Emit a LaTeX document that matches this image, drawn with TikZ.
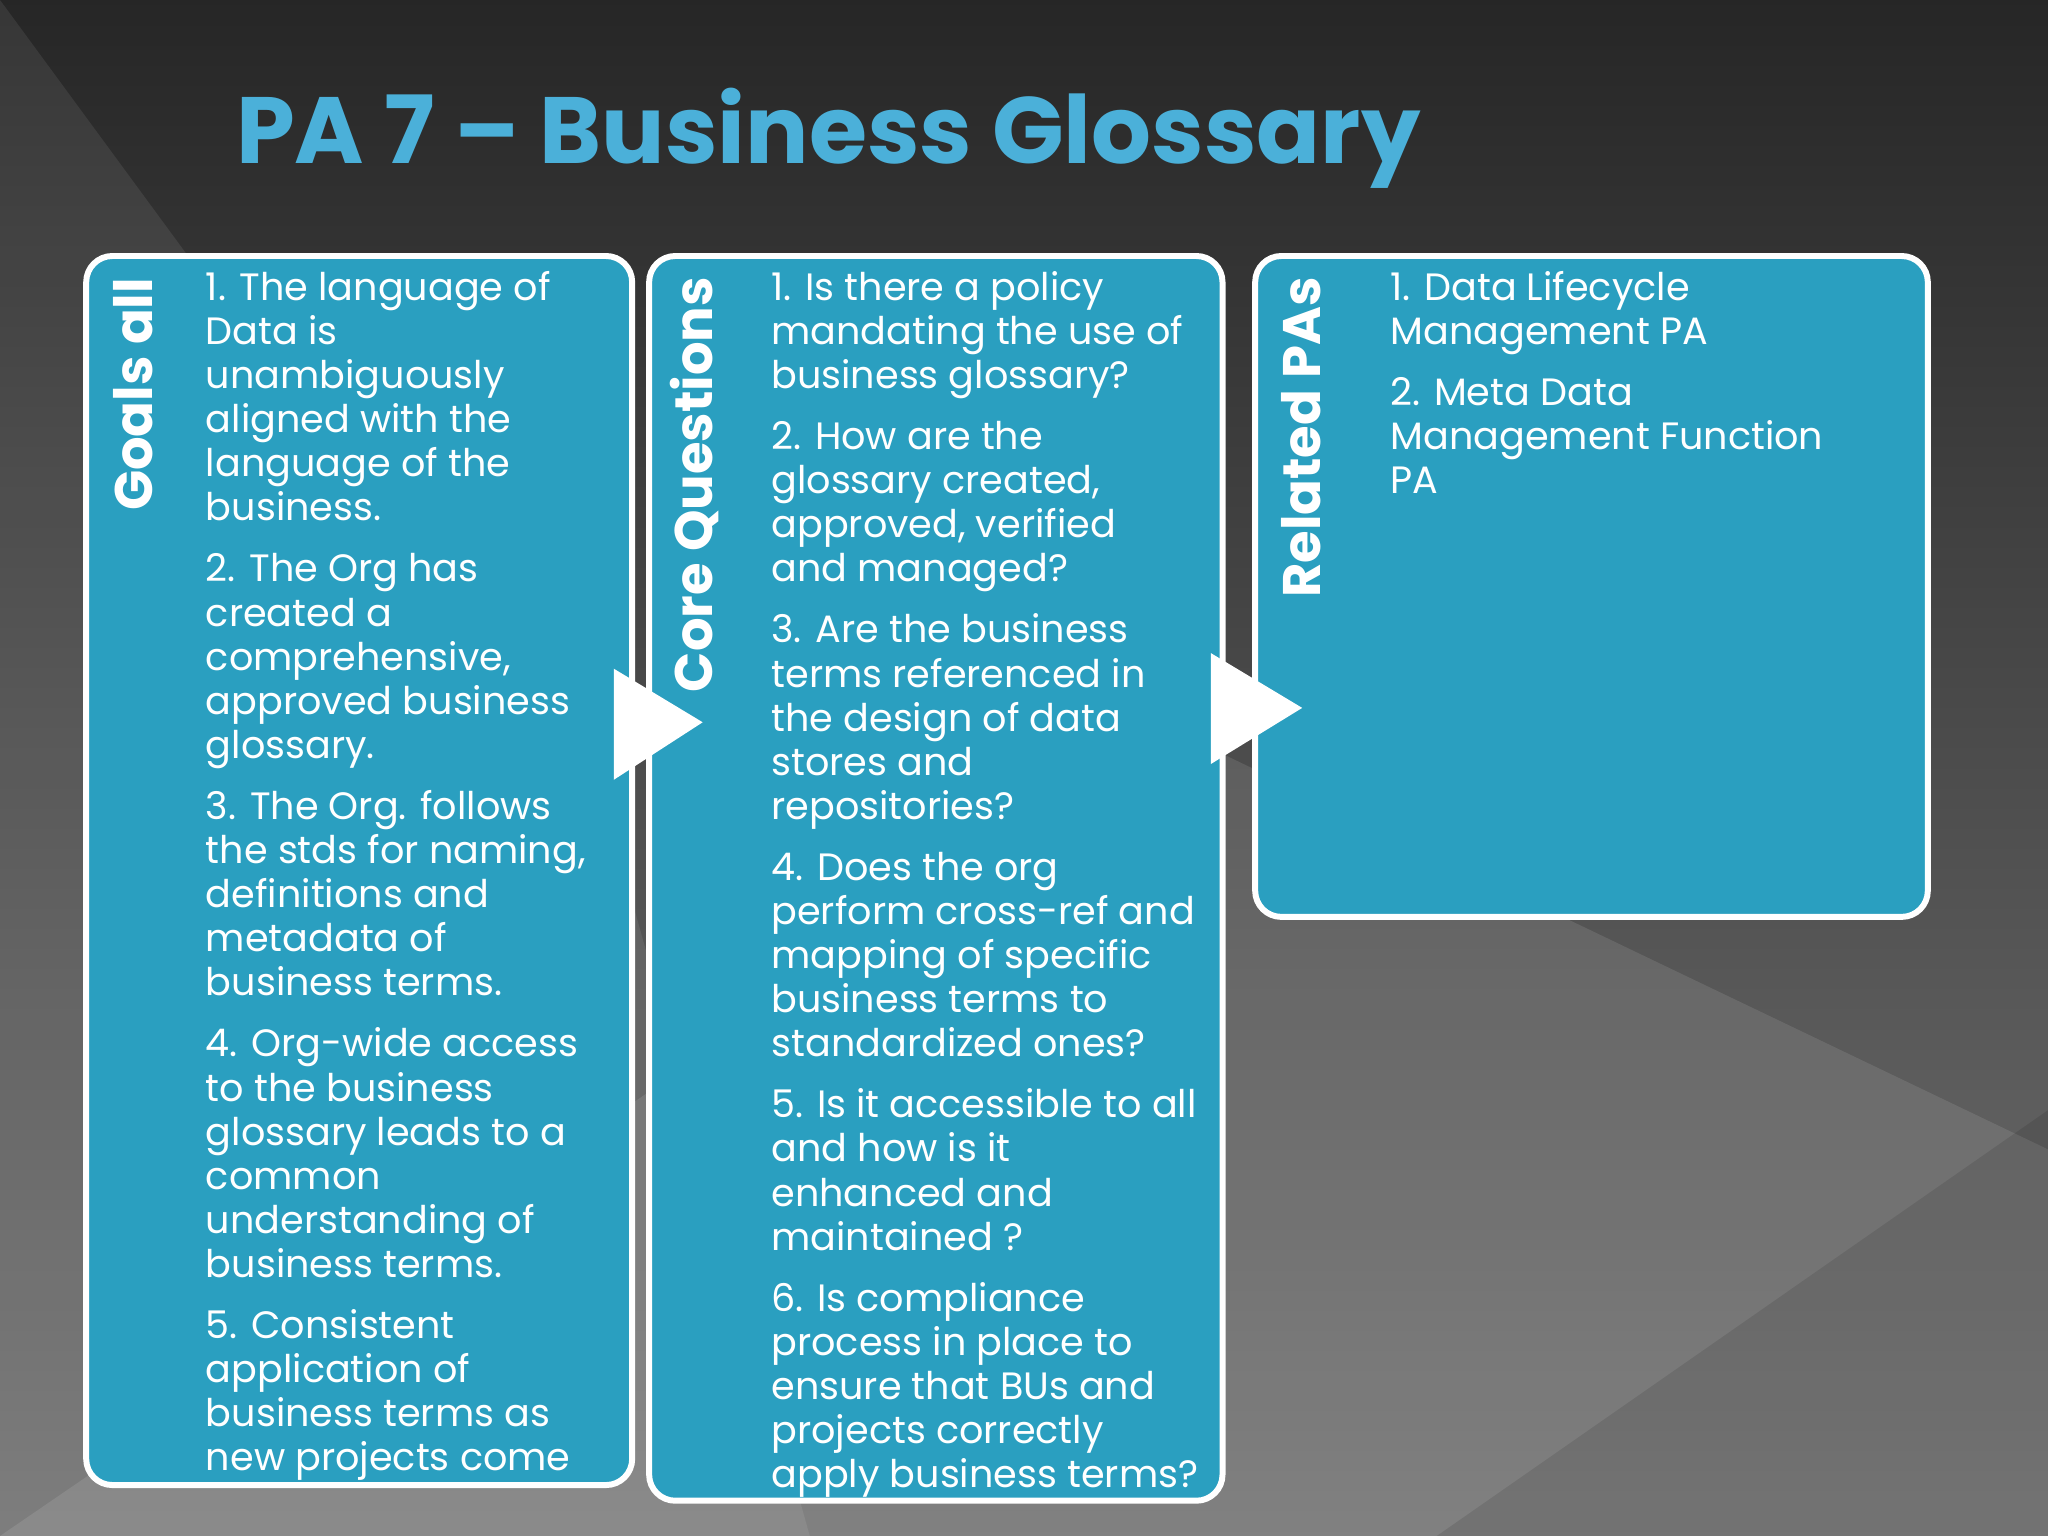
\documentclass[tikz,border=0pt]{standalone}
\usepackage{fontspec}
\setmainfont{Poppins}
\definecolor{boxc}{HTML}{2A9FC0}
\definecolor{titlec}{HTML}{4BB0D9}
\tikzset{
  panel/.style={draw=white,line width=1.3pt,fill=boxc,rounded corners=0.2cm},
  body/.style={anchor=north west,inner sep=0pt,text=white,align=left,font=\fontsize{8.3pt}{9.6pt}\selectfont},
  vlab/.style={rotate=90,text=white,font=\bfseries\fontsize{11.5pt}{12pt}\selectfont,inner sep=0pt},
  tri/.style={fill=white,draw=none}
}
\newcommand{\pgap}{\\[3.7pt]}
\begin{document}
\begin{tikzpicture}[x=0.01cm,y=-0.01cm]
\useasboundingbox (0,0) rectangle (1568,1176);
\shade[top color=black!85,bottom color=black!55] (0,0) rectangle (1568,1176);
\fill[white,opacity=0.08] (0,0) -- (0,1176) -- (620,1176) -- (470,640) -- cycle;
\fill[white,opacity=0.10] (0,1176) -- (900,560) -- (1568,880) -- (1568,1176) -- cycle;
\fill[black,opacity=0.10] (1100,1176) -- (1568,850) -- (1568,1176) -- cycle;
\node[anchor=west,text=titlec,font=\bfseries\fontsize{20.5pt}{24pt}\selectfont,inner sep=0pt] (title) at (180,106) {PA 7 – Business Glossary};

\draw[panel] (66,196) rectangle (484,1137);
\draw[panel] (497,196) rectangle (936,1149);
\draw[panel] (961,196) rectangle (1476,702);

\fill[tri] (470,512) -- (538,553) -- (470,597) -- cycle;
\fill[tri] (927,500) -- (997,542) -- (927,585) -- cycle;

\node[vlab] (l1) at (102,302) {Goals all};
\node[vlab] (l2) at (532,371) {Core Questions};
\node[vlab] (l3) at (996,335) {Related PAs};

\node[body] (t1) at (157,207) {1. The language of\\Data is\\unambiguously\\aligned with the\\language of the\\business.\pgap
2. The Org has\\created a\\comprehensive,\\approved business\\glossary.\pgap
3. The Org. follows\\the stds for naming,\\definitions and\\metadata of\\business terms.\pgap
4. Org-wide access\\to the business\\glossary leads to a\\common\\understanding of\\business terms.\pgap
5. Consistent\\application of\\business terms as\\new projects come};

\node[body] (t2) at (590,207) {1. Is there a policy\\mandating the use of\\business glossary?\pgap
2. How are the\\glossary created,\\approved, verified\\and managed?\pgap
3. Are the business\\terms referenced in\\the design of data\\stores and\\repositories?\pgap
4. Does the org\\perform cross-ref and\\mapping of specific\\business terms to\\standardized ones?\pgap
5. Is it accessible to all\\and how is it\\enhanced and\\maintained ?\pgap
6. Is compliance\\process in place to\\ensure that BUs and\\projects correctly\\apply business terms?};

\node[body] (t3) at (1064,207) {1. Data Lifecycle\\Management PA\pgap
2. Meta Data\\Management Function\\PA};
\end{tikzpicture}
\end{document}
